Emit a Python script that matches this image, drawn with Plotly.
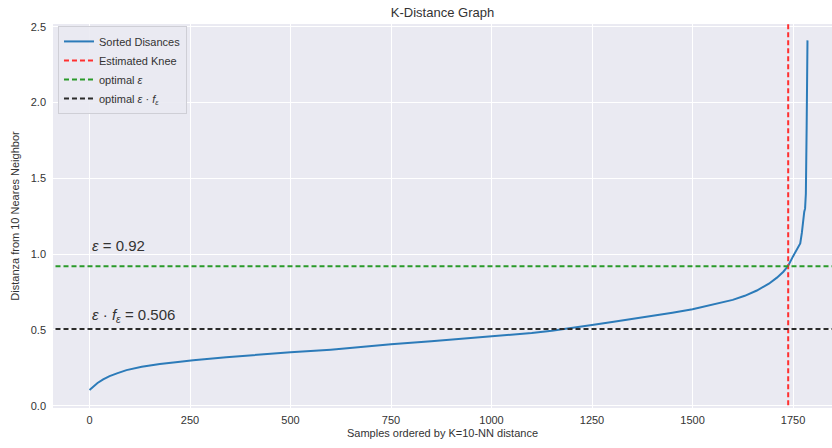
import plotly.graph_objects as go

sample_idx = [0, 10, 20, 34, 50, 70, 92, 130, 175, 220, 258, 340, 424, 500, 600, 673,
              750, 850, 950, 1050, 1100, 1150, 1200, 1250, 1300, 1350, 1400, 1450, 1500,
              1550, 1600, 1630, 1660, 1690, 1710, 1726, 1738, 1751, 1760, 1768, 1772,
              1776, 1778, 1780, 1782, 1784, 1786]
sorted_dist = [0.104, 0.13, 0.15, 0.174, 0.195, 0.215, 0.235, 0.257, 0.275, 0.288, 0.30,
               0.32, 0.339, 0.352, 0.37, 0.389, 0.405, 0.425, 0.445, 0.467, 0.48, 0.495,
               0.512, 0.532, 0.552, 0.572, 0.592, 0.614, 0.637, 0.665, 0.698, 0.725, 0.76,
               0.805, 0.845, 0.884, 0.923, 0.99, 1.035, 1.07, 1.14, 1.25, 1.28, 1.30, 1.40,
               1.85, 2.41]
knee_x = 1738
eps = 0.92
eps_f = 0.506
x_ticks = [0, 250, 500, 750, 1000, 1250, 1500, 1750]
y_ticks = [0.0, 0.5, 1.0, 1.5, 2.0, 2.5]

FONT = "Liberation Sans, Arial, sans-serif"
TXT = "#333333"

fig = go.Figure()
fig.add_trace(go.Scatter(x=sample_idx, y=sorted_dist, mode="lines", name="Sorted Disances",
                         line=dict(color="#2c7bb9", width=2)))
fig.add_trace(go.Scatter(x=[knee_x, knee_x], y=[-1, 5], mode="lines", name="Estimated Knee",
                         line=dict(color="#ff3030", width=2, dash="5px,3px")))
fig.add_trace(go.Scatter(x=[-1000, 3000], y=[eps, eps], mode="lines", name="optimal <i>ε</i>",
                         line=dict(color="#2a9a2a", width=2, dash="5px,3px")))
fig.add_trace(go.Scatter(x=[-1000, 3000], y=[eps_f, eps_f], mode="lines",
                         name="optimal <i>ε</i> · <i>f</i><sub><i>ε</i></sub>",
                         line=dict(color="#2b2b2b", width=2, dash="5px,3px")))

fig.add_annotation(x=0, y=0.985, xref="x", yref="y", xanchor="left", yanchor="bottom",
                   text=f"<i>ε</i> = {eps}", showarrow=False,
                   font=dict(family=FONT, size=15, color=TXT))
fig.add_annotation(x=0, y=0.52, xref="x", yref="y", xanchor="left", yanchor="bottom",
                   text=f"<i>ε</i> · <i>f</i><sub><i>ε</i></sub> = {eps_f}", showarrow=False,
                   font=dict(family=FONT, size=15, color=TXT))

fig.update_layout(
    width=832, height=448,
    margin=dict(l=53, r=0, t=24, b=40),
    paper_bgcolor="white", plot_bgcolor="#EAEAF2",
    font=dict(family=FONT, size=11, color=TXT),
    title=dict(text="K-Distance Graph", x=0.5, xref="paper", y=1 - 12 / 448, yref="container",
               xanchor="center", yanchor="middle", font=dict(size=13, color=TXT)),
    showlegend=True,
    legend=dict(x=0.0064, y=0.995, xanchor="left", yanchor="top",
                bgcolor="rgba(234,234,242,0.9)", bordercolor="#cfcfd6", borderwidth=1,
                font=dict(size=11, color=TXT), tracegroupgap=4),
    xaxis=dict(range=[-90.8, 1847], tickvals=x_ticks, ticktext=[str(v) for v in x_ticks],
               showgrid=True, gridcolor="white", gridwidth=1, zeroline=False, showline=False,
               ticks="", ticklabelstandoff=4,
               title=dict(text="Samples ordered by K=10-NN distance", standoff=4,
                          font=dict(size=11))),
    yaxis=dict(range=[-0.015, 2.518], tickvals=y_ticks, ticktext=[f"{v:.1f}" for v in y_ticks],
               showgrid=True, gridcolor="white", gridwidth=1, zeroline=False, showline=False,
               ticks="", ticklabelstandoff=6,
               title=dict(text="Distanza from 10 Neares Neighbor", standoff=8,
                          font=dict(size=11))),
)

fig.write_html("out.html")
